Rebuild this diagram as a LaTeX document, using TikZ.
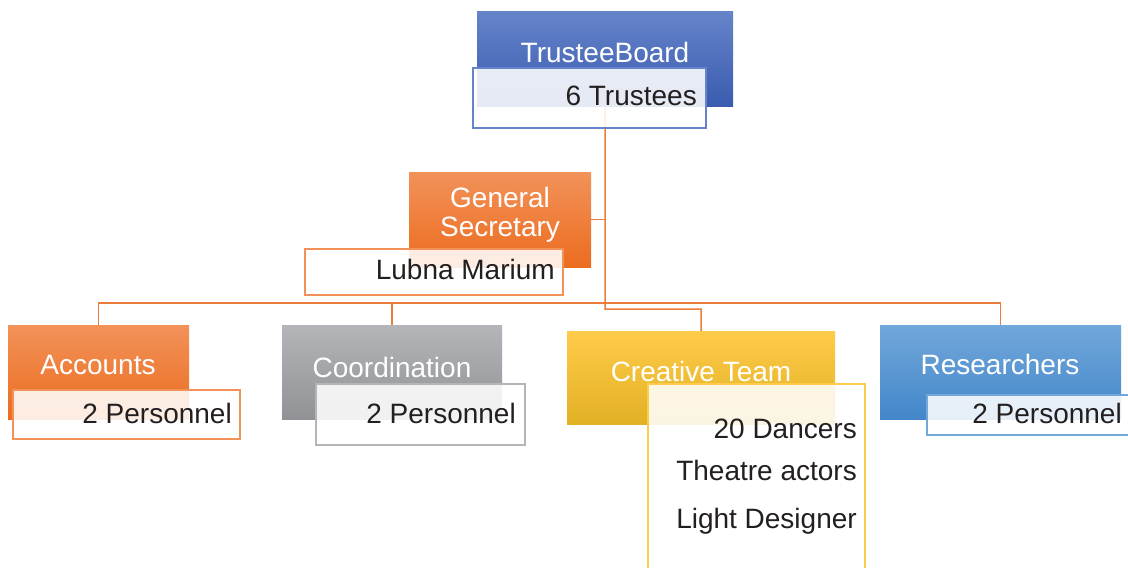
\documentclass[tikz,border=0pt]{standalone}
\usepackage{fontspec}
\setmainfont{Liberation Sans}

\definecolor{garisoranye}{HTML}{EB7D3C}
\definecolor{biruatas}{HTML}{6684CA}
\definecolor{birubawah}{HTML}{3A5CAF}
\definecolor{oranyeatas}{HTML}{F29259}
\definecolor{oranyebawah}{HTML}{EC6C1F}
\definecolor{abuatas}{HTML}{B3B5B8}
\definecolor{abubawah}{HTML}{909296}
\definecolor{kuningatas}{HTML}{FFCB4A}
\definecolor{kuningbawah}{HTML}{E2B024}
\definecolor{langitatas}{HTML}{72A7DA}
\definecolor{langitbawah}{HTML}{4287CA}
\definecolor{teksgelap}{HTML}{231F20}

\begin{document}
\begin{tikzpicture}[x=1pt, y=-1pt,
	every node/.style={font=\fontsize{28}{30}\selectfont, inner sep=0pt},
	kotak/.style={rectangle, anchor=north west},
	judul/.style={anchor=base, text=white},
	isi/.style={rectangle, anchor=north west, fill=white, fill opacity=0.87, line width=1.5pt},
	teks/.style={anchor=base east, text=teksgelap},
	garis/.style={draw=garisoranye, line width=1.5pt}]
		
		\useasboundingbox (0,0) rectangle (1128,568);
		
		% Kotak berwarna (pimpinan dan bagian)
		\node[kotak, minimum width=256, minimum height=95, top color=biruatas, bottom color=birubawah] (tb) at (477,11) {};
		\node[kotak, minimum width=182, minimum height=95, top color=oranyeatas, bottom color=oranyebawah] (gs) at (409,172) {};
		\node[kotak, minimum width=181, minimum height=94, top color=oranyeatas, bottom color=oranyebawah] (ac) at (8,325) {};
		\node[kotak, minimum width=220, minimum height=94, top color=abuatas, bottom color=abubawah] (ko) at (282,325) {};
		\node[kotak, minimum width=268, minimum height=93, top color=kuningatas, bottom color=kuningbawah] (ct) at (567,331) {};
		\node[kotak, minimum width=241, minimum height=94, top color=langitatas, bottom color=langitbawah] (re) at (880,325) {};
		
		% Garis penghubung
		\draw[garis] (tb.south) -- (605,309) -| (ct.north);
		\draw[garis] (gs.east) -- (gs.east -| tb.south);
		\draw[garis] (ac.north) -- ++(0,-22) -| (re.north);
		\draw[garis] (ko.north) -- ++(0,-22);
		
		% Judul tiap kotak
		\node[judul] (tbj) at (605,62) {TrusteeBoard};
		\node[judul] (gsj1) at (500,207) {General};
		\node[judul] (gsj2) at (500,236) {Secretary};
		\node[judul] (acj) at (98,374) {Accounts};
		\node[judul] (koj) at (392,377) {Coordination};
		\node[judul] (ctj) at (701,381) {Creative Team};
		\node[judul] (rej) at (1000,374) {Researchers};
		
		% Kotak keterangan (anggota)
		\node[isi, draw=biruatas, minimum width=233, minimum height=60] (tbi) at (472,67) {};
		\node[isi, draw=oranyeatas, minimum width=258, minimum height=46] (gsi) at (304,248) {};
		\node[isi, draw=oranyeatas, minimum width=227, minimum height=49] (aci) at (12,389) {};
		\node[isi, draw=abuatas, minimum width=209, minimum height=61] (koi) at (315,383) {};
		\node[isi, draw=kuningatas, minimum width=217, minimum height=200] (cti) at (647,383) {};
		\node[isi, draw=langitatas, minimum width=220, minimum height=40] (rei) at (926,394) {};
		
		% Teks keterangan
		\node[teks] (tbt) at (697,105) {6 Trustees};
		\node[teks] (gst) at (555,279) {Lubna Marium};
		\node[teks] (act) at (232,423) {2 Personnel};
		\node[teks] (kot) at (516,423) {2 Personnel};
		\node[teks] (ctt1) at (857,438) {20 Dancers};
		\node[teks] (ctt2) at (857,480) {Theatre actors};
		\node[teks] (ctt3) at (857,528) {Light Designer};
		\node[teks] (ret) at (1122,423) {2 Personnel};
		
	\end{tikzpicture}
\end{document}
